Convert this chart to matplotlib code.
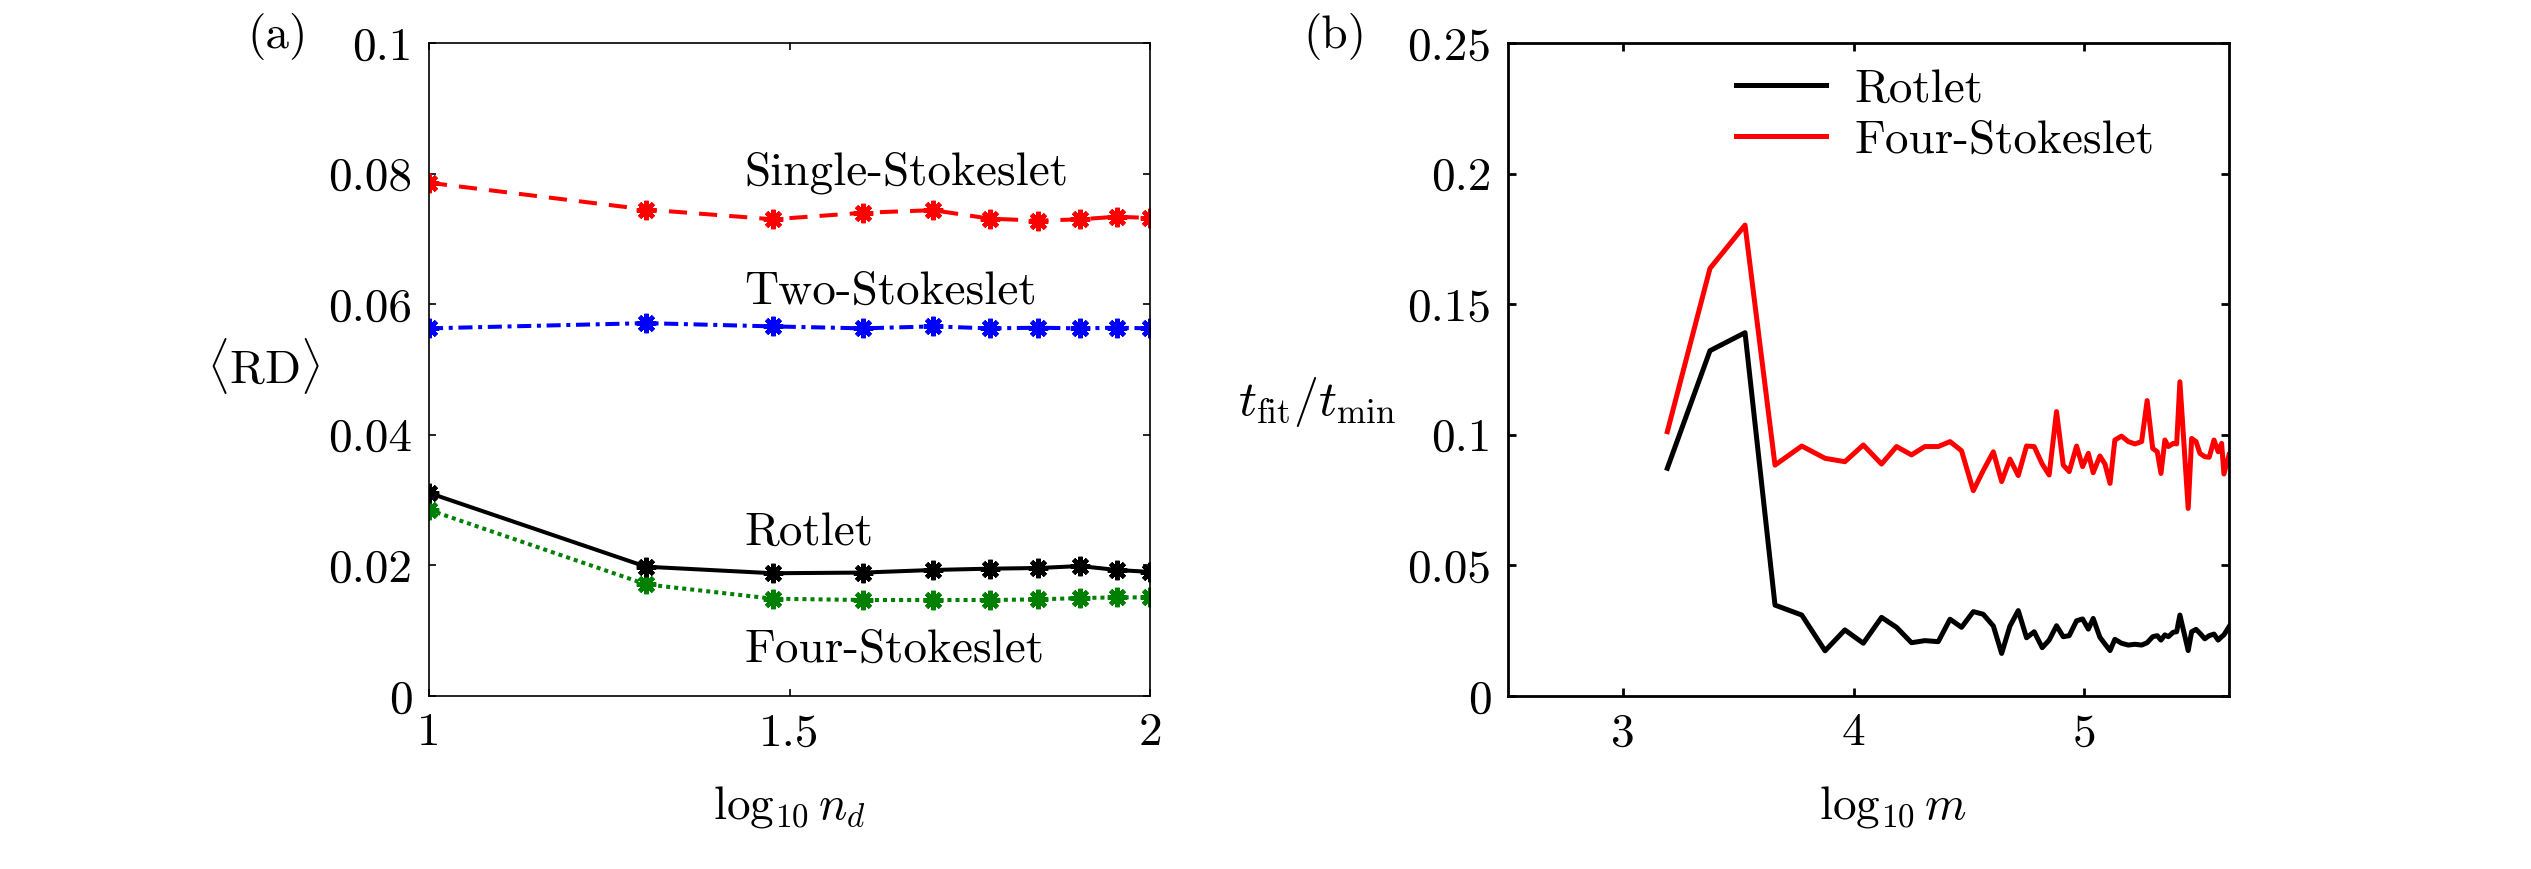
import numpy as np
import matplotlib
matplotlib.use("Agg")
import matplotlib.pyplot as plt

plt.rcParams['font.family'] = 'serif'
plt.rcParams['font.serif'] = ['cmr10']
plt.rcParams['mathtext.fontset'] = 'cm'
plt.rcParams['axes.unicode_minus'] = False
plt.rcParams['axes.formatter.use_mathtext'] = True

# ---- panel (a) data: mean relative deviation vs log10 n_d
log_nd = [1.0, 1.301, 1.477, 1.602, 1.699, 1.778, 1.845, 1.903, 1.954, 2.0]
rd_single = [0.0786, 0.0745, 0.0730, 0.0740, 0.0744, 0.0731, 0.0728, 0.0730, 0.0734, 0.0732]
rd_two = [0.0563, 0.0571, 0.0566, 0.0563, 0.0566, 0.0563, 0.0564, 0.0563, 0.0564, 0.0563]
rd_rotlet = [0.0311, 0.0198, 0.0188, 0.0189, 0.0193, 0.0195, 0.0196, 0.0199, 0.0193, 0.0190]
rd_four = [0.0285, 0.0171, 0.0149, 0.0147, 0.0147, 0.0147, 0.0148, 0.0150, 0.0151, 0.0151]

# ---- panel (b) data: t_fit / t_min vs log10 m
log_m = [3.191, 3.376, 3.528, 3.658, 3.774, 3.875, 3.961, 4.041, 4.120, 4.185,
         4.250, 4.308, 4.366, 4.417, 4.467, 4.518, 4.561, 4.605, 4.641, 4.677,
         4.713, 4.749, 4.782, 4.817, 4.847, 4.879, 4.908, 4.934, 4.966, 4.992,
         5.017, 5.038, 5.067, 5.089, 5.111, 5.132, 5.161, 5.190, 5.219, 5.248,
         5.272, 5.296, 5.316, 5.332, 5.349, 5.364, 5.385, 5.400, 5.414, 5.450,
         5.465, 5.484, 5.501, 5.522, 5.541, 5.562, 5.580, 5.595, 5.605, 5.627]
t_rotlet = [0.0872, 0.1322, 0.1391, 0.0348, 0.0310, 0.0173, 0.0253, 0.0202, 0.0301, 0.0263,
            0.0204, 0.0212, 0.0208, 0.0294, 0.0263, 0.0323, 0.0313, 0.0268, 0.0163, 0.0268,
            0.0327, 0.0223, 0.0246, 0.0185, 0.0214, 0.0269, 0.0227, 0.0231, 0.0288, 0.0295,
            0.0256, 0.0297, 0.0225, 0.0199, 0.0174, 0.0217, 0.0202, 0.0195, 0.0198, 0.0195,
            0.0204, 0.0227, 0.0231, 0.0214, 0.0234, 0.0227, 0.0244, 0.0246, 0.0310, 0.0174,
            0.0246, 0.0255, 0.0240, 0.0219, 0.0231, 0.0237, 0.0214, 0.0227, 0.0234, 0.0265]
t_four = [0.1012, 0.1637, 0.1803, 0.0884, 0.0957, 0.0910, 0.0897, 0.0961, 0.0888, 0.0955,
          0.0923, 0.0955, 0.0955, 0.0974, 0.0939, 0.0786, 0.0863, 0.0935, 0.0821, 0.0907,
          0.0844, 0.0957, 0.0955, 0.0888, 0.0846, 0.1089, 0.0884, 0.0859, 0.0957, 0.0878,
          0.0929, 0.0855, 0.0919, 0.0888, 0.0814, 0.0980, 0.0995, 0.0974, 0.0965, 0.0974,
          0.1131, 0.0948, 0.0935, 0.0852, 0.0980, 0.0955, 0.0967, 0.0965, 0.1203, 0.0718,
          0.0986, 0.0974, 0.0929, 0.0916, 0.0914, 0.0980, 0.0935, 0.0967, 0.0850, 0.0923]

FS = 34
W, H = 2531, 869
fig = plt.figure(figsize=(W / 100, H / 100), dpi=100)
ax1 = fig.add_axes([429 / W, 1 - 696 / H, 721 / W, 653 / H])
ax2 = fig.add_axes([1508 / W, 1 - 696 / H, 721 / W, 653 / H])

star = (8, 2, 0)
mk = dict(marker=star, markersize=14, markeredgewidth=3.2)
ax1.plot(log_nd, rd_single, color='red', lw=2.9, dashes=(4.5, 3), **mk)
ax1.plot(log_nd, rd_two, color='blue', lw=2.9, dashes=(3.5, 1.4, 1, 1.4), **mk)
ax1.plot(log_nd, rd_four, color='green', lw=2.9, dashes=(1, 1), **mk)
ax1.plot(log_nd, rd_rotlet, color='black', lw=2.9, **mk)

ax1.set_xlim(1, 2)
ax1.set_ylim(0, 0.1)
ax1.set_xticks([1, 1.5, 2])
ax1.set_xticklabels(['1', '1.5', '2'])
ax1.set_yticks([0, 0.02, 0.04, 0.06, 0.08, 0.1])
ax1.set_yticklabels(['0', '0.02', '0.04', '0.06', '0.08', '0.1'])
for s in ax1.spines.values():
    s.set_linewidth(1.2)
ax1.tick_params(direction='in', top=True, right=True, length=5, width=1.2,
                labelsize=FS, pad=12)

for txt, yb in [('Single-Stokeslet', 0.0783), ('Two-Stokeslet', 0.0600),
                ('Rotlet', 0.0231), ('Four-Stokeslet', 0.0053)]:
    ax1.text(1.437, yb, txt, fontsize=FS, ha='left', va='baseline')

ax1.set_xlabel(r'$\log_{10} n_d$', fontsize=FS)
ax1.xaxis.set_label_coords(0.5, -0.135)
ax1.text(-0.23, 0.505, r'$\langle\mathrm{RD}\rangle$', transform=ax1.transAxes,
         fontsize=FS, ha='center', va='center')
ax1.text(-0.21, 1.01, '(a)', transform=ax1.transAxes, fontsize=FS, ha='center', va='center')

# ---- panel (b)
ax2.plot(log_m, t_rotlet, color='black', lw=3.6, label='Rotlet')
ax2.plot(log_m, t_four, color='red', lw=3.6, label='Four-Stokeslet')
ax2.set_xlim(2.5, 5.627)
ax2.set_ylim(0, 0.25)
ax2.set_xticks([3, 4, 5])
ax2.set_xticklabels(['3', '4', '5'])
ax2.set_yticks([0, 0.05, 0.1, 0.15, 0.2, 0.25])
ax2.set_yticklabels(['0', '0.05', '0.1', '0.15', '0.2', '0.25'])
for s in ax2.spines.values():
    s.set_linewidth(2.0)
ax2.tick_params(direction='in', top=True, right=True, length=6, width=2.0,
                labelsize=FS, pad=12)
ax2.legend(loc='upper left', bbox_to_anchor=(0.29, 0.99), frameon=False,
           fontsize=FS, handlelength=1.9, handletextpad=0.6, labelspacing=0.2,
           borderaxespad=0)

ax2.set_xlabel(r'$\log_{10} m$', fontsize=FS)
ax2.xaxis.set_label_coords(0.534, -0.135)
ax2.text(-0.155, 0.45, r'$t_{\mathrm{fit}}/t_{\mathrm{min}}$', transform=ax2.transAxes,
         fontsize=FS + 2, ha='right', va='center')
ax2.text(-0.24, 1.01, '(b)', transform=ax2.transAxes, fontsize=FS, ha='center', va='center')

fig.savefig('out.png', dpi=100)
